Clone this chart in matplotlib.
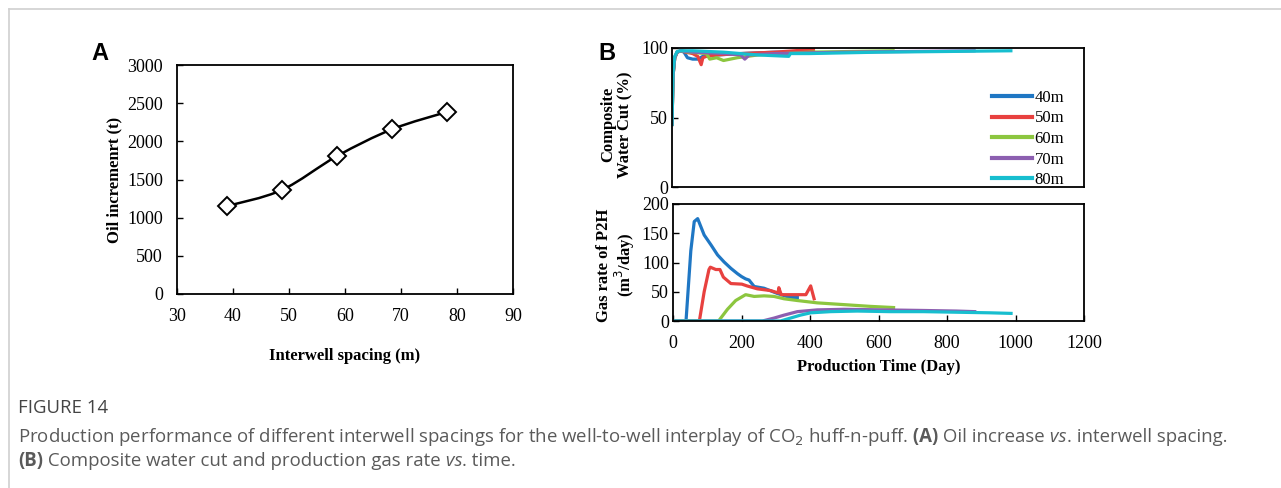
import numpy as np
import matplotlib
matplotlib.use("Agg")
import matplotlib.pyplot as plt
from matplotlib.path import Path
from matplotlib.patches import PathPatch
from matplotlib.lines import Line2D

# ---- data: panel A ----
spacing = [39.0, 48.7, 58.6, 68.4, 78.2]
oil_inc = [1153, 1362, 1808, 2158, 2385]

# ---- data: panel B ----
labels = ['40m', '50m', '60m', '70m', '80m']
colors = ['#1f77c4', '#e8413f', '#8cc63f', '#8c5fb0', '#17becf']

wc_days = [
    [0, 3, 8, 15, 25, 35, 45, 60, 75, 90, 130, 200, 300, 363],
    [0, 3, 8, 15, 25, 40, 60, 75, 85, 90, 100, 130, 200, 300, 412],
    [0, 3, 8, 15, 25, 50, 100, 110, 130, 150, 190, 250, 400, 644],
    [0, 3, 8, 15, 25, 60, 150, 200, 212, 225, 300, 500, 880],
    [0, 3, 8, 15, 25, 60, 150, 250, 340, 345, 400, 600, 800, 987],
]
wc_vals = [
    [45, 80, 93, 97, 98, 97, 93, 92, 92, 94, 95, 96, 97, 97],
    [45, 80, 93, 97, 98, 97, 96, 94, 88, 93, 94, 95, 96, 97, 99],
    [45, 80, 93, 97, 98, 97, 96, 92, 93, 91, 93, 95, 97, 98],
    [45, 80, 93, 97, 98, 97, 96, 95, 92, 95, 96, 97, 98],
    [45, 82, 94, 97.5, 98, 98, 97, 95, 94, 96, 96, 97, 97.5, 98],
]

gas_days = [
    [0, 38, 52, 62, 72, 91, 111, 130, 149, 169, 188, 200, 212, 222, 237, 266, 305, 343, 363],
    [0, 77, 91, 105, 109, 125, 137, 147, 169, 201, 216, 246, 285, 307, 309, 316, 388, 402, 412],
    [0, 133, 159, 183, 212, 237, 266, 295, 324, 363, 421, 499, 576, 644],
    [0, 261, 295, 324, 363, 421, 499, 615, 731, 828, 881],
    [0, 314, 343, 372, 402, 460, 538, 634, 731, 828, 925, 987],
]
gas_vals = [
    [0, 0, 120, 170, 175, 147, 130, 113, 101, 90, 81, 76, 72, 70, 59, 56, 47, 40, 40],
    [0, 0, 50, 88, 92, 88, 88, 75, 64, 63, 60, 55, 52, 48, 57, 45, 45, 60, 38],
    [0, 0, 20, 35, 45, 42, 43, 42, 38, 35, 31, 28, 25, 23],
    [0, 0, 5, 10, 16, 19, 20, 19, 18, 17, 16],
    [0, 0, 5, 10, 14, 16, 17, 16, 16, 15, 14, 13],
]

serif = 'Liberation Serif'
W, H = 1281, 488
fig = plt.figure(figsize=(W / 100, H / 100), dpi=100)


def box(l, t, r, b):
    return [l / W, 1 - b / H, (r - l) / W, (b - t) / H]


def style(ax, xpad, ypad):
    for s in ax.spines.values():
        s.set_linewidth(1.3)
    ax.tick_params(direction='in', length=4, width=1, labelsize=13)
    ax.tick_params(axis='x', pad=xpad)
    ax.tick_params(axis='y', pad=ypad)
    for t in ax.get_xticklabels() + ax.get_yticklabels():
        t.set_fontfamily(serif)


# ---- panel A ----
axA = fig.add_axes(box(177, 65, 513, 294))
axA.set_xlim(30, 90)
axA.set_ylim(0, 3000)
axA.set_xticks(range(30, 91, 10))
axA.set_yticks(range(0, 3001, 500))
style(axA, 10, 10)
axA.set_xlabel('Interwell spacing (m)', fontfamily=serif, fontweight='bold',
               fontsize=12, labelpad=17)
axA.set_ylabel('Oil incremenrt (t)', fontfamily=serif, fontweight='bold',
               fontsize=12)
axA.yaxis.set_label_coords((122 - 177) / 336, 0.5)

# smoothed line (Catmull-Rom style bezier through the points)
pts = np.column_stack([spacing, oil_inc]).astype(float)
verts = [pts[0]]
codes = [Path.MOVETO]
n = len(pts)
for i in range(n - 1):
    p0 = pts[i - 1] if i > 0 else pts[i]
    p1, p2 = pts[i], pts[i + 1]
    p3 = pts[i + 2] if i + 2 < n else pts[i + 1]
    verts += [p1 + (p2 - p0) / 6, p2 - (p3 - p1) / 6, p2]
    codes += [Path.CURVE4] * 3
axA.add_patch(PathPatch(Path(verts, codes), fill=False, lw=1.8, color='black',
                        transform=axA.transData))
axA.plot(spacing, oil_inc, ls='none', marker='D', ms=9.5, mfc='white',
         mec='black', mew=1.4)
fig.text(100 / W, 1 - 53 / H, 'A', fontfamily='Liberation Sans', fontweight='bold',
         fontsize=17, ha='center', va='center')

# ---- panel B top: water cut ----
axT = fig.add_axes(box(672, 48, 1084, 187))
axT.set_xlim(0, 1200)
axT.set_ylim(0, 100)
axT.set_yticks([0, 50, 100])
axT.set_xticks([])
style(axT, 10, 3)
for d, v, c, lab in zip(wc_days, wc_vals, colors, labels):
    axT.plot(d, v, color=c, lw=2.3, label=lab)
axT.set_ylabel('Composite\nWater Cut (%)', fontfamily=serif, fontweight='bold',
               fontsize=12, linespacing=1.05)
axT.yaxis.set_label_coords((633 - 672) / 412, 0.45)
handles = [Line2D([], [], color=c, lw=3) for c in colors]
leg = axT.legend(handles, labels, loc='upper left',
                 bbox_to_anchor=((992 - 672) / 412, (187 - 90) / 139),
                 frameon=False, prop={'family': serif, 'size': 12},
                 handlelength=2.4, handletextpad=0.15, labelspacing=0.27,
                 borderpad=0, borderaxespad=0)
fig.text(607 / W, 1 - 53 / H, 'B', fontfamily='Liberation Sans', fontweight='bold',
         fontsize=17, ha='center', va='center')

# ---- panel B bottom: gas rate ----
axG = fig.add_axes(box(673, 204, 1084, 321))
axG.set_xlim(0, 1200)
axG.set_ylim(0, 200)
axG.set_xticks(range(0, 1201, 200))
axG.set_yticks(range(0, 201, 50))
style(axG, 10, 3)
for d, v, c in zip(gas_days, gas_vals, colors):
    axG.plot(d, v, color=c, lw=2.3)
axG.set_ylabel('Gas rate of P2H\n(m$^3$/day)', fontfamily=serif, fontweight='bold',
               fontsize=12, linespacing=1.05)
axG.yaxis.set_label_coords((637 - 673) / 411, 0.48)
axG.set_xlabel('Production Time (Day)', fontfamily=serif, fontweight='bold',
               fontsize=12, labelpad=5)

# ---- frame lines ----
fig.add_artist(Line2D([9 / W, 1], [1 - 9 / H, 1 - 9 / H], color='#d0d0d0', lw=1.2))
fig.add_artist(Line2D([9 / W, 9 / W], [0, 1 - 9 / H], color='#d0d0d0', lw=1.2))

# ---- caption ----
cap = 'Open Sans'
gray = '#5a5a5a'
fig.text(18 / W, 1 - 408 / H, 'FIGURE 14', fontfamily=cap, fontsize=13.4,
         color='#444444', va='center')

fig.canvas.draw()
renderer = fig.canvas.get_renderer()


def line_pieces(x, y, pieces):
    for txt, kw in pieces:
        t = fig.text(x / W, 1 - y / H, txt, fontfamily=cap, fontsize=13.4,
                     color=gray, va='center', **kw)
        x += t.get_window_extent(renderer).width


line_pieces(18, 437, [
    ('Production performance of different interwell spacings for the well-to-well '
     'interplay of CO$_2$ huff-n-puff.', {}),
    (' (A)', {'fontweight': 'bold'}),
    (' Oil increase', {}),
    (' vs', {'fontstyle': 'italic'}),
    ('. interwell spacing.', {}),
])
line_pieces(18, 461, [
    ('(B)', {'fontweight': 'bold'}),
    (' Composite water cut and production gas rate', {}),
    (' vs', {'fontstyle': 'italic'}),
    ('. time.', {}),
])

fig.savefig('out.png', dpi=100)
